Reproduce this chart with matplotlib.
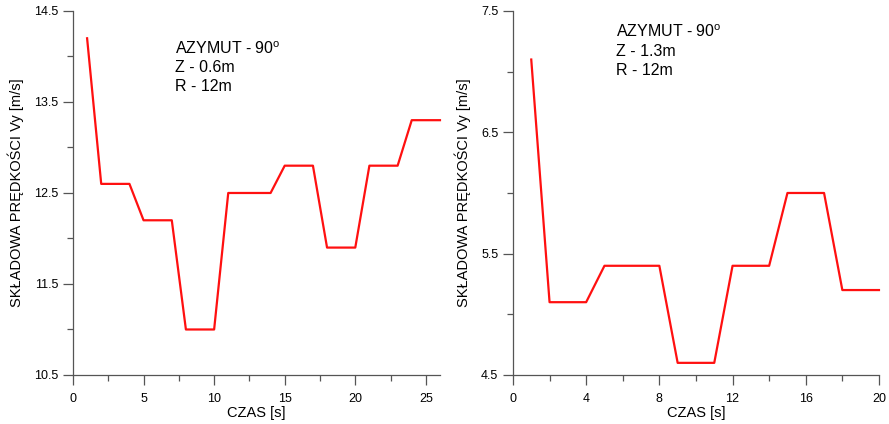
import matplotlib
matplotlib.use("Agg")
import matplotlib.pyplot as plt
from matplotlib.ticker import MultipleLocator, FormatStrFormatter

# data
time_a = list(range(1, 27))
vy_a = [14.2, 12.6, 12.6, 12.6, 12.2, 12.2, 12.2, 11.0, 11.0, 11.0,
        12.5, 12.5, 12.5, 12.5, 12.8, 12.8, 12.8, 11.9, 11.9, 11.9,
        12.8, 12.8, 12.8, 13.3, 13.3, 13.3]
time_b = list(range(1, 21))
vy_b = [7.1, 5.1, 5.1, 5.1, 5.4, 5.4, 5.4, 5.4, 4.6, 4.6,
        4.6, 5.4, 5.4, 5.4, 6.0, 6.0, 6.0, 5.2, 5.2, 5.2]
label_a = "AZYMUT - 90$^{\\mathrm{o}}$\nZ - 0.6m\nR - 12m"
label_b = "AZYMUT - 90$^{\\mathrm{o}}$\nZ - 1.3m\nR - 12m"

plt.rcParams['font.family'] = ['Liberation Sans', 'DejaVu Sans']
plt.rcParams['mathtext.fontset'] = 'custom'
plt.rcParams['mathtext.rm'] = 'Liberation Sans'

fig = plt.figure(figsize=(8.89, 4.24), dpi=100)
ax1 = fig.add_axes([0.0821, 0.1156, 0.4128, 0.8585])
ax2 = fig.add_axes([0.577, 0.1156, 0.4117, 0.8585])


def style(ax, xlim, ylim, xmaj, xmin, text, tx, ty):
    ax.set_xlim(*xlim)
    ax.set_ylim(*ylim)
    ax.xaxis.set_major_locator(MultipleLocator(xmaj))
    ax.xaxis.set_minor_locator(MultipleLocator(xmin))
    ax.yaxis.set_major_locator(MultipleLocator(1.0, offset=0.5))
    ax.yaxis.set_minor_locator(MultipleLocator(0.5))
    ax.yaxis.set_major_formatter(FormatStrFormatter('%.1f'))
    for s in ['top', 'right']:
        ax.spines[s].set_visible(False)
    for s in ['left', 'bottom']:
        ax.spines[s].set_color('#555555')
        ax.spines[s].set_linewidth(0.9)
    ax.tick_params(which='both', color='#555555', width=0.9, labelsize=9, direction='out')
    ax.tick_params(which='major', length=7)
    ax.tick_params(which='minor', length=4)
    ax.tick_params(axis='x', pad=6)
    ax.set_xlabel('CZAS [s]', fontsize=10.5, labelpad=1)
    ax.set_ylabel('SKŁADOWA PRĘDKOŚCI Vy [m/s]', fontsize=10.5, labelpad=7)
    ax.text(tx, ty, text, transform=ax.transAxes, fontsize=11.5, va='top', ha='left', linespacing=1.3)


ax1.plot(time_a, vy_a, color='#ff1010', linewidth=1.6, clip_on=False)
style(ax1, (0, 26), (10.5, 14.5), 5, 2.5, label_a, 0.278, 0.92)
ax2.plot(time_b, vy_b, color='#ff1010', linewidth=1.6, clip_on=False)
style(ax2, (0, 20), (4.5, 7.5), 4, 2, label_b, 0.281, 0.965)

fig.savefig('out.png', dpi=100)
